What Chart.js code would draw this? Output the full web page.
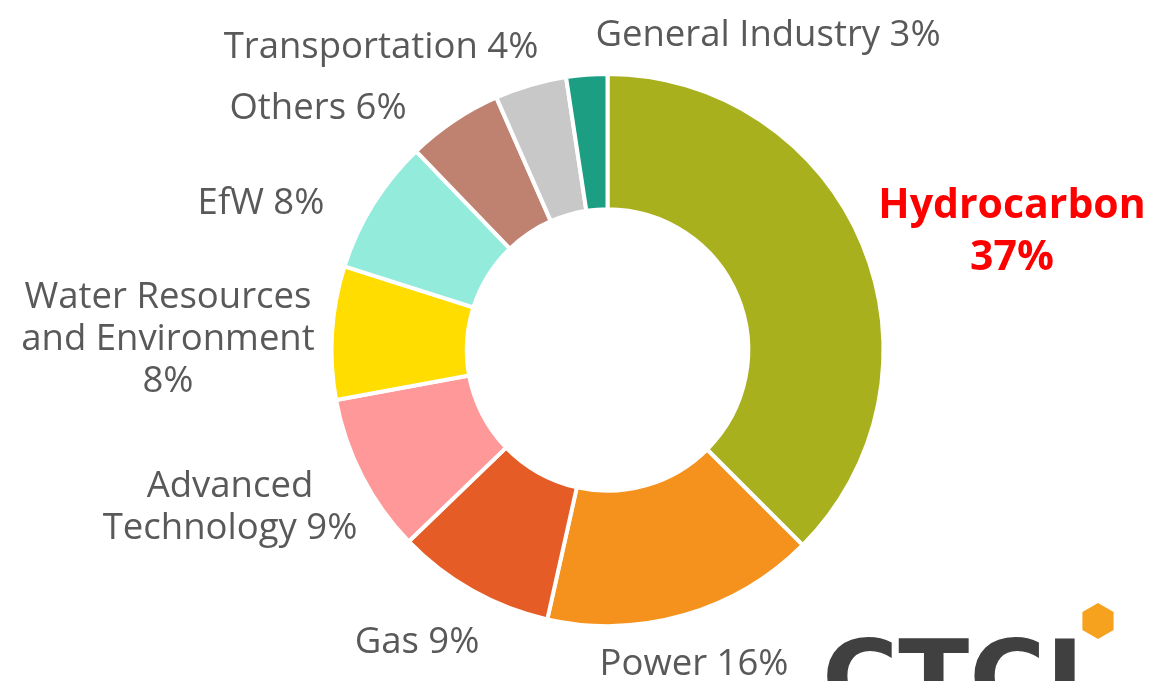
<!DOCTYPE html>
<html lang="en">
<head>
    <meta charset="UTF-8">
    <title>Business share doughnut</title>
    <script src="https://cdn.jsdelivr.net/npm/chart.js"></script>
    <style>
        html, body { margin: 0; padding: 0; background: #fff; }
        #wrap { width: 1153px; height: 681px; position: relative; overflow: hidden; }
    </style>
</head>
<body>
    <div id="wrap"><canvas id="myChart"></canvas></div>

    <script>
        const categories = ['Hydrocarbon', 'Power', 'Gas', 'Advanced Technology',
            'Water Resources and Environment', 'EfW', 'Others', 'Transportation', 'General Industry'];
        const shares = [37.5, 16, 9.3, 9.3, 7.8, 7.9, 5.6, 4.2, 2.4];
        const shareLabels = ['37%', '16%', '9%', '9%', '8%', '8%', '6%', '4%', '3%'];
        const colors = ['#A8B01E', '#F5921E', '#E55C27', '#FF9898', '#FFDD00',
            '#92EBDB', '#BF8270', '#C8C8C8', '#1C9E82'];

        // where each label sits (text lines, centre x, first line y)
        const labelLayout = [
            { lines: ['Hydrocarbon', '{p}'], x: 1012, y: 206, hot: true },
            { lines: ['Power {p}'], x: 694, y: 665 },
            { lines: ['Gas {p}'], x: 417, y: 643 },
            { lines: ['Advanced', 'Technology {p}'], x: 230, y: 487 },
            { lines: ['Water Resources', 'and Environment', '{p}'], x: 168, y: 298 },
            { lines: ['EfW {p}'], x: 261, y: 204 },
            { lines: ['Others {p}'], x: 318, y: 109 },
            { lines: ['Transportation {p}'], x: 381, y: 48 },
            { lines: ['General Industry {p}'], x: 768, y: 36 }
        ];

        const sliceLabelPlugin = {
            id: 'sliceLabelPlugin',
            afterDraw(chart) {
                const {ctx} = chart;
                ctx.save();
                ctx.textAlign = 'center';
                ctx.textBaseline = 'middle';
                labelLayout.forEach((lab, i) => {
                    if (lab.hot) {
                        ctx.font = 'bold 41px "Open Sans", sans-serif';
                        ctx.fillStyle = '#FF0000';
                    } else {
                        ctx.font = '36.5px "Open Sans", sans-serif';
                        ctx.fillStyle = '#595959';
                    }
                    const step = lab.hot ? 52 : 42;
                    lab.lines.forEach((t, k) => {
                        ctx.fillText(t.replace('{p}', shareLabels[i]), lab.x, lab.y + k * step);
                    });
                });

                // company mark, bottom right
                ctx.fillStyle = '#404040';
                ctx.font = 'bold 104px "DejaVu Sans", sans-serif';
                ctx.textAlign = 'left';
                ctx.textBaseline = 'alphabetic';
                ctx.fillText('CTCI', 822, 714);

                ctx.fillStyle = '#F7A21E';
                const hx = 1098, hy = 621, hr = 18;
                ctx.beginPath();
                for (let a = 0; a < 6; a++) {
                    const ang = -Math.PI / 2 + a * Math.PI / 3;
                    const px = hx + Math.cos(ang) * hr;
                    const py = hy + Math.sin(ang) * hr;
                    if (a === 0) ctx.moveTo(px, py); else ctx.lineTo(px, py);
                }
                ctx.closePath();
                ctx.fill();
                ctx.restore();
            }
        };

        const config = {
            type: 'doughnut',
            data: {
                labels: categories,
                datasets: [{
                    data: shares,
                    backgroundColor: colors,
                    borderColor: '#FFFFFF',
                    borderWidth: 4
                }]
            },
            options: {
                responsive: true,
                maintainAspectRatio: false,
                animation: false,
                cutout: '51%',
                layout: {
                    padding: { left: 329, right: 267, top: 72, bottom: 53 }
                },
                plugins: {
                    legend: { display: false },
                    tooltip: { enabled: false }
                }
            },
            plugins: [sliceLabelPlugin]
        };

        const ctx = document.getElementById('myChart').getContext('2d');
        new Chart(ctx, config);
    </script>
</body>
</html>
